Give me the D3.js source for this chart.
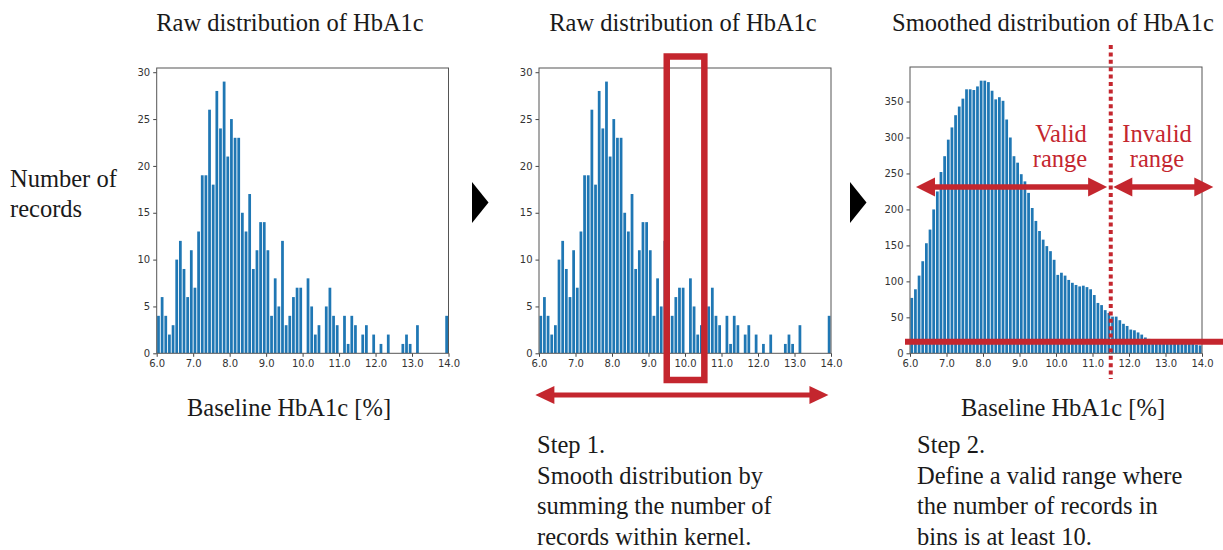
<!DOCTYPE html>
<html lang="en">
<head>
  <meta charset="utf-8">
  <title>HbA1c distribution</title>
  <script src="https://d3js.org/d3.v7.min.js"></script>
  <style>
    body { margin: 0; background: #fff; }
    .serif { font-family: "Liberation Serif", "Times New Roman", serif; font-size: 24.5px; fill: #1a1a1a; }
    .red { fill: #c4262e; }
    .tick text { font-family: "DejaVu Sans", sans-serif; font-size: 10px; fill: #333; }
    .tick line { stroke: #444; }
  </style>
</head>
<body>
<div id="chart"></div>
<script>
"use strict"

// bins of 0.1 from 6.0 to 14.0
var binLeft = d3.range(80).map(i => +(6 + i * 0.1).toFixed(1));
var binWidth = 0.1;

// raw counts per bin
var rawCounts = [
  4, 6, 4, 2, 3, 10, 12, 9, 6, 11,
  7, 13, 19, 19, 26, 18, 28, 24, 29, 21,
  25, 23, 23, 15, 13, 17, 9, 11, 14, 14,
  11, 4, 8, 5, 12, 3, 4, 6, 7, 7,
  0, 8, 5, 2, 3, 0, 5, 7, 4, 3,
  0, 4, 1, 4, 3, 0, 2, 3, 0, 2,
  0, 1, 0, 2, 0, 0, 0, 1, 2, 1,
  0, 3, 0, 0, 0, 0, 0, 0, 0, 4
];

// smoothed counts per bin
var smoothCounts = [
  77, 89, 108, 128, 153, 172, 200, 225, 252, 274,
  297, 314, 331, 343, 354, 367, 367, 366, 371, 379,
  379, 377, 365, 353, 356, 351, 325, 300, 274, 265,
  249, 239, 223, 202, 184, 170, 158, 149, 142, 130,
  109, 112, 108, 102, 98, 95, 93, 94, 92, 89,
  81, 70, 67, 60, 56, 51, 51, 46, 41, 38,
  33, 32, 29, 26, 22, 20, 19, 18, 17, 17,
  16, 16, 15, 15, 14, 14, 13, 13, 12, 11
];

var xTicks = [6, 7, 8, 9, 10, 11, 12, 13, 14];
var yTicksRaw = [0, 5, 10, 15, 20, 25, 30];
var yTicksSmooth = [0, 50, 100, 150, 200, 250, 300, 350];

var kernel = [9.5, 10.53];      // red box in panel 2
var kernelSpan = [5.9, 13.93];  // arrow under panel 2
var cutoff = 11.5;              // valid / invalid border
var threshold = 16;             // horizontal red line
var validSpan = [6.165, 11.4];
var invalidSpan = [11.57, 14.31];

var red = "#c4262e";
var blue = "#1f77b4";

var svg = d3.select("#chart").append("svg")
  .attr("width", 1223).attr("height", 550);
svg.append("rect").attr("width", 1223).attr("height", 550).attr("fill", "#fff");

function panel(left, right, top, ymax, counts, yTicks, id) {
  var x = d3.scaleLinear().domain([6, 14]).range([left, right]);
  var y = d3.scaleLinear().domain([0, ymax]).range([353.3, top]);
  var g = svg.append("g");

  g.append("clipPath").attr("id", id).append("rect")
    .attr("x", left).attr("y", top).attr("width", right - left).attr("height", 353.3 - top);

  g.append("g").attr("clip-path", "url(#" + id + ")")
    .selectAll("rect").data(counts).enter().append("rect")
      .attr("x", (d, i) => x(binLeft[i]) + 0.4)
      .attr("width", (d, i) => x(binLeft[i] + binWidth) - x(binLeft[i]) - 0.9)
      .attr("y", d => y(d))
      .attr("height", d => y(0) - y(d))
      .attr("fill", blue);

  g.append("g").attr("transform", "translate(0,353.3)")
    .call(d3.axisBottom(x).tickValues(xTicks).tickFormat(d3.format(".1f")).tickSize(3.5).tickPadding(3))
    .call(a => a.select(".domain").remove());
  g.append("g").attr("transform", "translate(" + left + ",0)")
    .call(d3.axisLeft(y).tickValues(yTicks).tickSize(3.5).tickPadding(3))
    .call(a => a.select(".domain").remove());

  g.append("rect").attr("x", left).attr("y", top)
    .attr("width", right - left).attr("height", 353.3 - top)
    .attr("fill", "none").attr("stroke", "#555").attr("stroke-width", 1);
  return {x: x, y: y};
}

function arrow(x1, x2, y, len, half, w) {
  svg.append("line").attr("x1", x1 + len - 2).attr("x2", x2 - len + 2)
    .attr("y1", y).attr("y2", y).attr("stroke", red).attr("stroke-width", w);
  svg.append("path").attr("fill", red)
    .attr("d", "M" + x1 + "," + y + "L" + (x1 + len) + "," + (y - half) + "L" + (x1 + len) + "," + (y + half) + "Z");
  svg.append("path").attr("fill", red)
    .attr("d", "M" + x2 + "," + y + "L" + (x2 - len) + "," + (y - half) + "L" + (x2 - len) + "," + (y + half) + "Z");
}

function label(txt, x, y, anchor, cls) {
  svg.append("text").attr("class", cls || "serif").attr("x", x).attr("y", y)
    .attr("text-anchor", anchor || "middle").text(txt);
}

var p1 = panel(156.7, 448.5, 68, 30.45, rawCounts, yTicksRaw, "c1");
var p2 = panel(539, 831, 68, 30.45, rawCounts, yTicksRaw, "c2");
var p3 = panel(910, 1202, 67, 398, smoothCounts, yTicksSmooth, "c3");

// titles and axis labels
label("Raw distribution of HbA1c", 290, 31);
label("Raw distribution of HbA1c", 683, 31);
label("Smoothed distribution of HbA1c", 1053, 31);
label("Number of", 10, 187, "start");
label("records", 10, 217, "start");
label("Baseline HbA1c [%]", 289, 416);
label("Baseline HbA1c [%]", 1063, 416);

// step texts
["Step 1.", "Smooth distribution by", "summing the number of", "records within kernel."]
  .forEach((t, i) => label(t, 537, 453 + i * 30.5, "start"));
["Step 2.", "Define a valid range where", "the number of records in", "bins is at least 10."]
  .forEach((t, i) => label(t, 917, 453 + i * 30.5, "start"));

// black triangles between panels
[472, 850].forEach(function (tx) {
  svg.append("path").attr("fill", "#000")
    .attr("d", "M" + tx + ",182L" + tx + ",223L" + (tx + 16.5) + ",202.5Z");
});

// panel 2: kernel box and span arrow
svg.append("rect")
  .attr("x", p2.x(kernel[0])).attr("y", 56.5)
  .attr("width", p2.x(kernel[1]) - p2.x(kernel[0])).attr("height", 323.5)
  .attr("fill", "none").attr("stroke", red).attr("stroke-width", 6.5);
arrow(p2.x(kernelSpan[0]), p2.x(kernelSpan[1]), 395, 19, 9, 5);

// panel 3: threshold line, cutoff line, ranges
svg.append("line").attr("x1", 905).attr("x2", 1223)
  .attr("y1", p3.y(threshold)).attr("y2", p3.y(threshold))
  .attr("stroke", red).attr("stroke-width", 6);
svg.append("line").attr("x1", p3.x(cutoff)).attr("x2", p3.x(cutoff))
  .attr("y1", 45).attr("y2", 379)
  .attr("stroke", red).attr("stroke-width", 4).attr("stroke-dasharray", "4,3.4");
arrow(p3.x(validSpan[0]), p3.x(validSpan[1]), 187, 19, 9.5, 5.5);
arrow(p3.x(invalidSpan[0]), p3.x(invalidSpan[1]), 187, 19, 9.5, 5.5);

label("Valid", 1061, 142, "middle", "serif red");
label("range", 1060, 167, "middle", "serif red");
label("Invalid", 1157, 142, "middle", "serif red");
label("range", 1157, 167, "middle", "serif red");
</script>
</body>
</html>
